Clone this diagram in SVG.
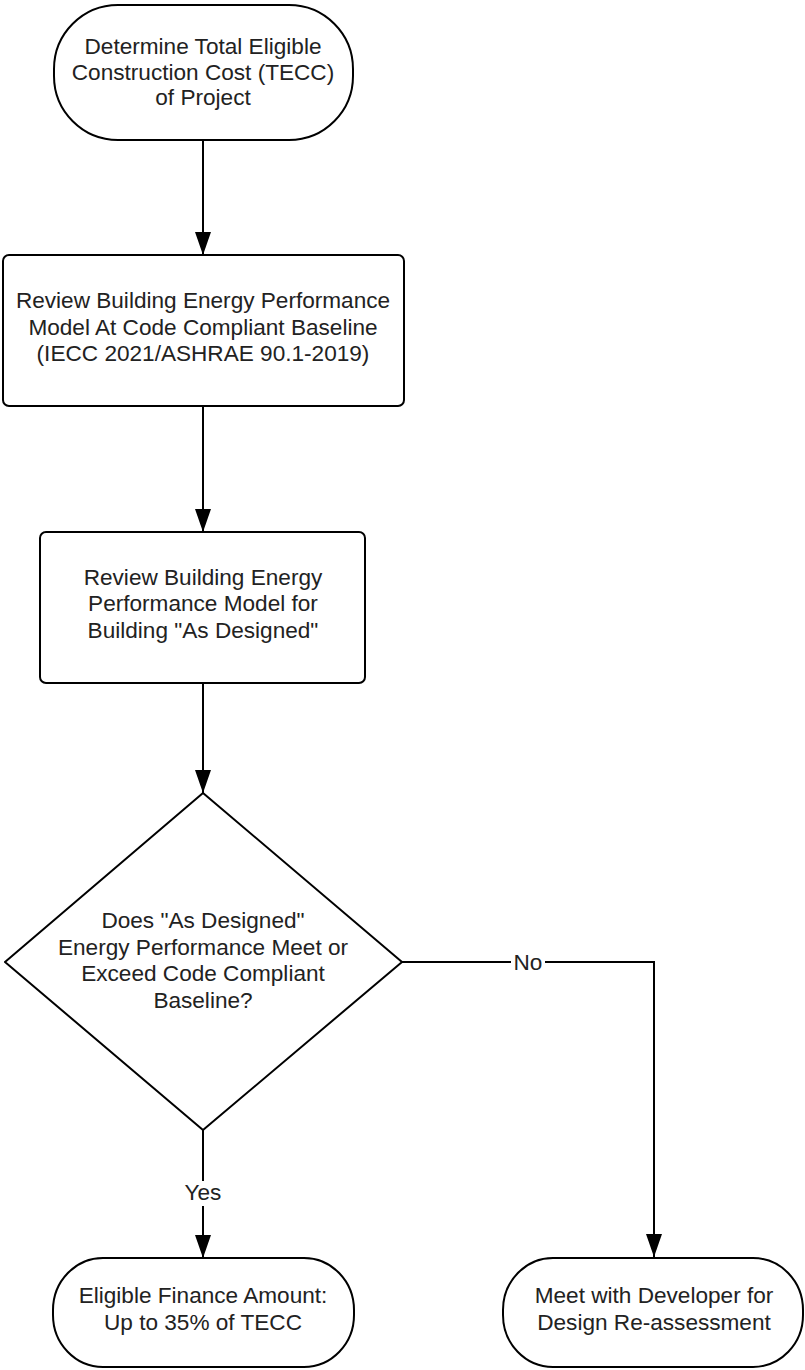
<svg xmlns="http://www.w3.org/2000/svg" width="805" height="1370" viewBox="0 0 805 1370">
<defs>
<style>
.shape{fill:#fff;stroke:#000;stroke-width:2;stroke-linejoin:round}
.lbl{font-family:"Liberation Sans",Arial,sans-serif;font-size:22.6px;fill:#222;text-anchor:middle}
.conn{fill:none;stroke:#000;stroke-width:2}
</style>
<marker id="ah" viewBox="0 0 23 16" refX="23" refY="8" markerWidth="23" markerHeight="16" markerUnits="userSpaceOnUse" orient="auto">
<path d="M0,0 L23,8 L0,16 Z" fill="#000"/>
</marker>
</defs>
<rect width="805" height="1370" fill="#fff"/>
<g id="connectors">
<line class="conn" x1="203" y1="140" x2="203" y2="255" marker-end="url(#ah)"/>
<line class="conn" x1="203" y1="406" x2="203" y2="532" marker-end="url(#ah)"/>
<line class="conn" x1="203" y1="683" x2="203" y2="793" marker-end="url(#ah)"/>
<polyline class="conn" points="402,962 654,962 654,1257" marker-end="url(#ah)"/>
<line class="conn" x1="203" y1="1130" x2="203" y2="1258" marker-end="url(#ah)"/>
<rect x="511" y="950" width="34" height="24" fill="#fff"/>
<text class="lbl" x="528" y="970">No</text>
<rect x="180" y="1181" width="46" height="25" fill="#fff"/>
<text class="lbl" x="203" y="1200">Yes</text>
</g>
<g id="start">
<rect class="shape" x="54" y="5" width="299" height="135" rx="64" ry="64"/>
<text class="lbl" x="203" y="54">Determine Total Eligible</text>
<text class="lbl" x="203" y="80">Construction Cost (TECC)</text>
<text class="lbl" x="203" y="105">of Project</text>
</g>
<g id="review-baseline">
<rect class="shape" x="3" y="255" width="401" height="151" rx="6"/>
<text class="lbl" x="203" y="308">Review Building Energy Performance</text>
<text class="lbl" x="203" y="335">Model At Code Compliant Baseline</text>
<text class="lbl" x="203" y="361">(IECC 2021/ASHRAE 90.1-2019)</text>
</g>
<g id="review-designed">
<rect class="shape" x="40" y="532" width="325" height="151" rx="6"/>
<text class="lbl" x="203" y="585">Review Building Energy</text>
<text class="lbl" x="203" y="611">Performance Model for</text>
<text class="lbl" x="203" y="638">Building "As Designed"</text>
</g>
<g id="decision">
<path class="shape" d="M203,793 L402,962 L203,1130 L5,962 Z"/>
<text class="lbl" x="203" y="928">Does "As Designed"</text>
<text class="lbl" x="203" y="955">Energy Performance Meet or</text>
<text class="lbl" x="203" y="981">Exceed Code Compliant</text>
<text class="lbl" x="203" y="1008">Baseline?</text>
</g>
<g id="eligible">
<rect class="shape" x="53" y="1258" width="301" height="109" rx="50" ry="52"/>
<text class="lbl" x="203" y="1303">Eligible Finance Amount:</text>
<text class="lbl" x="203" y="1330">Up to 35% of TECC</text>
</g>
<g id="meet-developer">
<rect class="shape" x="503" y="1258" width="300" height="109" rx="50" ry="52"/>
<text class="lbl" x="654" y="1303">Meet with Developer for</text>
<text class="lbl" x="654" y="1330">Design Re-assessment</text>
</g>
</svg>
